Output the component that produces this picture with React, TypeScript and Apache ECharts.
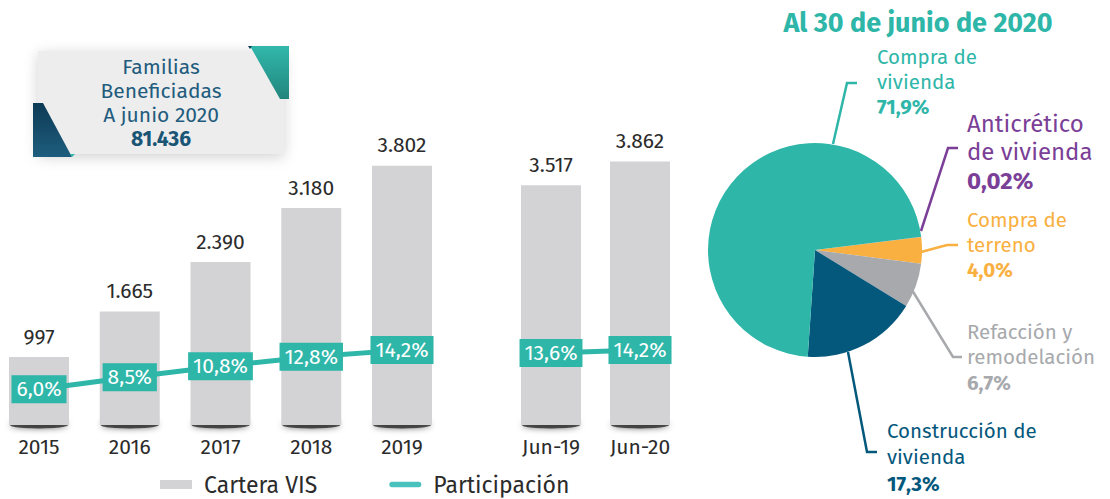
import React, { useEffect, useRef } from "react";
import * as echarts from "echarts";

const categoriesA = ["2015", "2016", "2017", "2018", "2019"];
const carteraA = [997, 1665, 2390, 3180, 3802];
const participacionA = [6.0, 8.5, 10.8, 12.8, 14.2];

const categoriesB = ["Jun-19", "Jun-20"];
const carteraB = [3517, 3862];
const participacionB = [13.6, 14.2];

const pieNames = [
  "Anticrético de vivienda",
  "Compra de terreno",
  "Refacción y remodelación",
  "Construcción de vivienda",
  "Compra de vivienda",
];
const pieLabelLines = [
  ["Anticrético", "de vivienda"],
  ["Compra de", "terreno"],
  ["Refacción y", "remodelación"],
  ["Construcción de", "vivienda"],
  ["Compra de", "vivienda"],
];
const pieValues = [0.02, 4.0, 6.7, 17.3, 71.9];
const pieColors = ["#7b3f98", "#f9b040", "#a7a9ac", "#04587c", "#2eb6a9"];

const boxLines = ["Familias", "Beneficiadas", "A junio 2020"];
const boxTotal = 81436;

const FONT = "'Fira Sans', 'Noto Sans', sans-serif";
const TEAL = "#2eb6a9";

const thousands = (v: number) => String(v).replace(/\B(?=(\d{3})+(?!\d))/g, ".");
const pct1 = (v: number) => v.toFixed(1).replace(".", ",") + "%";
const pctPie = (v: number) => (v < 0.1 ? v.toFixed(2) : v.toFixed(1)).replace(".", ",") + "%";

// label placement for pie labels (layout only)
const pieLabelLayouts = [
  { x: 967, y: 152, pts: [[921, 231], [948, 148], [958, 148]], fs: 24, lh: 28.5 },
  { x: 967, y: 245, pts: [[921, 252], [947, 245], [958, 245]], fs: 20.5, lh: 25 },
  { x: 967, y: 357, pts: [[912, 290], [953, 357], [962, 357]], fs: 20.5, lh: 25.5 },
  { x: 887, y: 457, pts: [[848, 352], [867, 452], [877, 452]], fs: 20.5, lh: 26.5 },
  { x: 877, y: 82, pts: [[833, 144], [847, 83], [857, 83]], fs: 20.5, lh: 25 },
];

export default function App() {
  const ref = useRef<HTMLDivElement>(null);

  useEffect(() => {
    if (!ref.current) return;
    const chart = echarts.init(ref.current, null, { renderer: "svg" });

    const barBase = {
      type: "bar",
      name: "Cartera VIS",
      barWidth: 60,
      z: 3,
      itemStyle: { color: "#d3d3d5" },
      label: {
        show: true,
        position: "top",
        distance: 10,
        fontFamily: FONT,
        fontSize: 21,
        color: "#2b2b2b",
        formatter: (p: any) => thousands(p.value),
      },
    };
    const lineBase = {
      type: "line",
      name: "Participación",
      symbol: "circle",
      symbolSize: 4,
      z: 5,
      lineStyle: { color: TEAL, width: 5 },
      itemStyle: { color: TEAL },
      label: {
        show: true,
        position: "inside",
        fontFamily: FONT,
        fontSize: 21,
        color: "#ffffff",
        backgroundColor: TEAL,
        padding: [4, 5, 3, 5],
        formatter: (p: any) => pct1(p.value),
      },
    };
    const shadowBase = {
      type: "scatter",
      symbol: "circle",
      symbolSize: [58, 7],
      z: 1,
      silent: true,
      itemStyle: {
        color: "rgba(30,30,30,0.95)",
        shadowBlur: 6,
        shadowColor: "rgba(0,0,0,0.7)",
      },
    };
    const xAxisBase = {
      type: "category",
      boundaryGap: false,
      axisLine: { show: false },
      axisTick: { show: false },
      axisLabel: { fontFamily: FONT, fontSize: 21, color: "#2b2b2b", margin: 11 },
    };

    const pieData = pieValues.map((v, i) => {
      const L = pieLabelLayouts[i];
      const c = pieColors[i];
      return {
        value: v,
        name: pieNames[i],
        itemStyle: { color: c },
        label: {
          formatter: `{n|${pieLabelLines[i][0]}}\n{n|${pieLabelLines[i][1]}}\n{b|${pctPie(v)}}`,
          rich: {
            n: { fontFamily: FONT, fontSize: L.fs, lineHeight: L.lh, color: c },
            b: { fontFamily: FONT, fontSize: L.fs, lineHeight: L.lh, color: c, fontWeight: "bold" },
          },
        },
        labelLine: { lineStyle: { color: c, width: 2.5 } },
      };
    });

    const tealGrad = new echarts.graphic.LinearGradient(0, 0, 0, 1, [
      { offset: 0, color: "#31b8ab" },
      { offset: 1, color: "#22857d" },
    ]);
    const blueGrad = new echarts.graphic.LinearGradient(0, 0, 0, 1, [
      { offset: 0, color: "#0d3a54" },
      { offset: 1, color: "#1e5d7e" },
    ]);
    const boxText = "#1f5c7d";

    chart.setOption({
      animation: false,
      backgroundColor: "#ffffff",
      title: {
        text: "Al 30 de junio de 2020",
        left: 913,
        top: 4,
        textAlign: "center",
        textStyle: { fontFamily: FONT, fontSize: 27, fontWeight: "bold", color: TEAL },
      },
      legend: {
        left: 155,
        top: 468,
        itemWidth: 32,
        itemHeight: 9,
        itemGap: 72,
        textStyle: { fontFamily: FONT, fontSize: 23, color: "#2b2b2b", padding: [0, 0, 0, 7] },
        data: [
          { name: "Cartera VIS", icon: "rect", itemStyle: { color: "#d3d3d5" } },
          {
            name: "Participación",
            icon: "path://M3,0 H33 A3,3 0 0 1 33,6 H3 A3,3 0 0 1 3,0 Z",
            itemStyle: { color: "#49c1bd" },
          },
        ],
      },
      grid: [
        { left: 39, width: 363, top: 84, bottom: 74 },
        { left: 551, width: 89, top: 84, bottom: 74 },
      ],
      xAxis: [
        { ...xAxisBase, gridIndex: 0, data: categoriesA },
        { ...xAxisBase, gridIndex: 1, data: categoriesB },
      ],
      yAxis: [
        { type: "value", gridIndex: 0, min: 0, max: 5000, show: false },
        { type: "value", gridIndex: 0, min: -1.5, max: 70, show: false },
        { type: "value", gridIndex: 1, min: 0, max: 5000, show: false },
        { type: "value", gridIndex: 1, min: -1.5, max: 70, show: false },
      ],
      series: [
        { ...shadowBase, xAxisIndex: 0, yAxisIndex: 0, data: carteraA.map(() => 0) },
        { ...shadowBase, xAxisIndex: 1, yAxisIndex: 2, data: carteraB.map(() => 0) },
        { ...barBase, xAxisIndex: 0, yAxisIndex: 0, data: carteraA },
        { ...barBase, xAxisIndex: 1, yAxisIndex: 2, data: carteraB },
        { ...lineBase, xAxisIndex: 0, yAxisIndex: 1, data: participacionA },
        { ...lineBase, xAxisIndex: 1, yAxisIndex: 3, data: participacionB },
        {
          type: "pie",
          name: "Destino",
          center: [815, 250],
          radius: 107,
          startAngle: 7.07,
          clockwise: true,
          avoidLabelOverlap: false,
          label: { show: true, position: "outside" },
          labelLine: { show: true },
          labelLayout: (p: any) => {
            const L = pieLabelLayouts[p.dataIndex];
            return {
              x: L.x,
              y: L.y,
              align: "left",
              verticalAlign: "middle",
              labelLinePoints: L.pts,
            };
          },
          data: pieData,
        },
      ],
      graphic: [
        {
          type: "rect",
          shape: { x: 38, y: 51, width: 246, height: 103 },
          style: {
            fill: "#ededed",
            shadowBlur: 14,
            shadowColor: "rgba(0,0,0,0.18)",
            shadowOffsetY: 3,
          },
          z: 10,
        },
        {
          type: "polygon",
          shape: { points: [[250, 46], [289, 46], [289, 99], [280, 99]] },
          style: { fill: tealGrad },
          z: 11,
        },
        {
          type: "polygon",
          shape: { points: [[248, 46], [252, 46], [250, 49]] },
          style: { fill: "#0d3a54" },
          z: 11,
        },
        {
          type: "polygon",
          shape: { points: [[33, 103], [43, 103], [72, 157], [33, 157]] },
          style: { fill: blueGrad },
          z: 11,
        },
        {
          type: "polygon",
          shape: { points: [[70, 154], [75, 154], [72, 157]] },
          style: { fill: TEAL },
          z: 11,
        },
        {
          type: "text",
          x: 161,
          y: 103,
          z: 12,
          style: {
            text: boxLines.map((s) => `{a|${s}}`).join("\n") + `\n{b|${thousands(boxTotal)}}`,
            align: "center",
            verticalAlign: "middle",
            rich: {
              a: { fontFamily: FONT, fontSize: 21, lineHeight: 24, fill: boxText, color: boxText },
              b: { fontFamily: FONT, fontSize: 21, lineHeight: 24, fontWeight: "bold", fill: "#1a5576", color: "#1a5576" },
            },
          },
        },
      ],
    });

    return () => chart.dispose();
  }, []);

  return <div ref={ref} style={{ position: "absolute", left: 0, top: 0, width: 1110, height: 499 }} />;
}
